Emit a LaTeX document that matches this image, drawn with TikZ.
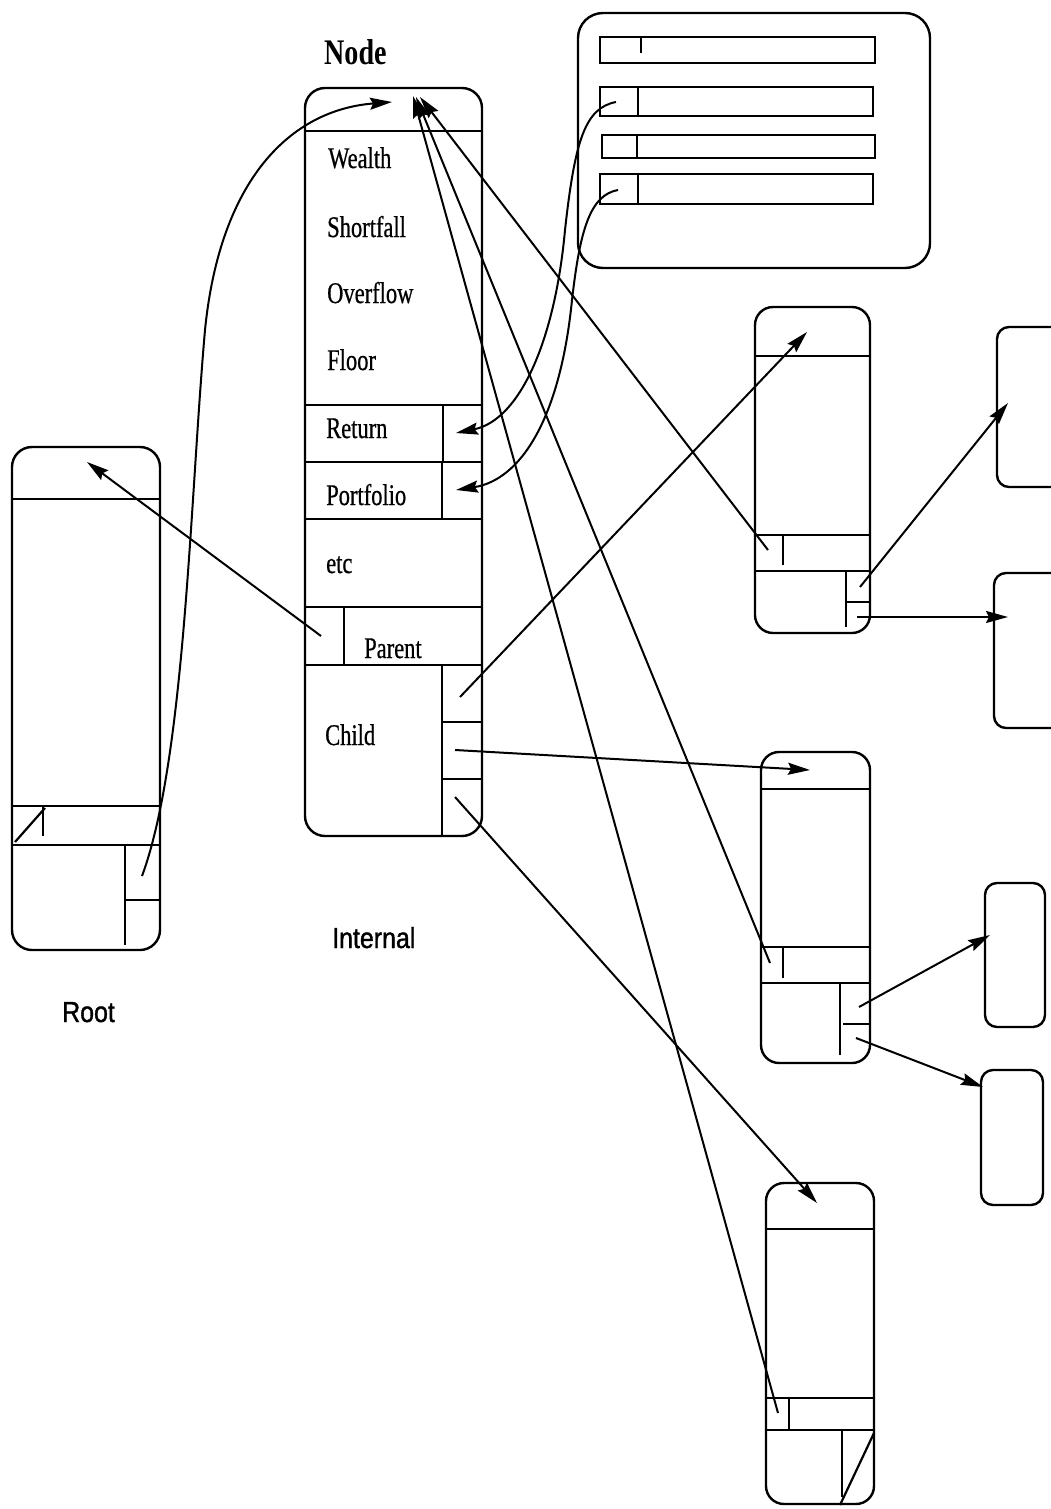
\documentclass[tikz,border=0pt]{standalone}
\usepackage{fontspec}
\setmainfont{Liberation Serif}
\newfontfamily\condserif[FakeStretch=0.75,FakeBold=0.6]{Liberation Serif}
\newfontfamily\titleserif[FakeStretch=0.78]{Liberation Serif}
\newfontfamily\condsans[FakeStretch=0.86,FakeBold=1.2]{Liberation Sans}
\usetikzlibrary{arrows.meta}
\tikzset{
  frame/.style={line width=2.4pt, rounded corners=#1},
  frame/.default=18pt,
  rule/.style={line width=2.2pt},
  ptr/.style={line width=2pt, -{Stealth[length=22pt,width=12pt,inset=3pt]}},
  lbl/.style={anchor=base west, inner sep=0pt, font=\condserif\fontsize{30}{32}\selectfont},
  sanslbl/.style={anchor=base west, inner sep=0pt, font=\condsans\fontsize{29}{32}\selectfont},
}
\begin{document}
\begin{tikzpicture}[x=1pt,y=-1pt]
\useasboundingbox (0,0) rectangle (1051,1509);

% ---------- Node (internal) ----------
\draw[frame=20pt] (305,88) rectangle (482,836);
\foreach \yy in {131,405,462,519,607,665} \draw[rule] (305,\yy) -- (482,\yy);
\draw[rule] (443,405) -- (443,462);
\draw[rule] (442,462) -- (442,519);
\draw[rule] (344,607) -- (344,665);
\draw[rule] (442,665) -- (442,836);
\draw[rule] (442,722) -- (482,722);
\draw[rule] (442,779) -- (482,779);
\node[anchor=base west, inner sep=0pt, font=\titleserif\bfseries\fontsize{36}{40}\selectfont] (title) at (324,65) {Node};
\node[lbl] (wealth) at (328,168) {Wealth};
\node[lbl] (shortfall) at (327,237) {Shortfall};
\node[lbl] (overflow) at (327,303) {Overflow};
\node[lbl] (floor) at (327,370) {Floor};
\node[lbl] (return) at (326,438) {Return};
\node[lbl] (portfolio) at (326,505) {Portfolio};
\node[lbl] (etc) at (326,573) {etc};
\node[lbl] (parent) at (364,658) {Parent};
\node[lbl] (child) at (325,745) {Child};
\node[sanslbl] (internal) at (332,948) {Internal};

% ---------- Root ----------
\draw[frame=20pt] (12,447) rectangle (160,950);
\foreach \yy in {499,806,845} \draw[rule] (12,\yy) -- (160,\yy);
\draw[rule] (43,806) -- (43,836);
\draw[rule] (15,842) -- (45,808);
\draw[rule] (125,845) -- (125,945);
\draw[rule] (125,900) -- (160,900);
\node[sanslbl] (rootlbl) at (62,1022) {Root};

% ---------- list box ----------
\draw[frame=25pt] (578,13) rectangle (930,268);
\draw[rule] (600,37) rectangle (875,63);
\draw[rule] (641,37) -- (641,53);
\draw[rule] (600,87) rectangle (873,116);
\draw[rule] (638,87) -- (638,116);
\draw[rule] (602,135) rectangle (875,158);
\draw[rule] (637,135) -- (637,158);
\draw[rule] (600,174) rectangle (873,204);
\draw[rule] (638,174) -- (638,204);

% ---------- child box 1 ----------
\draw[frame] (755,307) rectangle (870,633);
\foreach \yy in {356,535,571} \draw[rule] (755,\yy) -- (870,\yy);
\draw[rule] (783,535) -- (783,565);
\draw[rule] (846,571) -- (846,627);
\draw[rule] (846,602) -- (870,602);

% ---------- child box 2 ----------
\draw[frame] (761,752) rectangle (870,1063);
\foreach \yy in {789,947,983} \draw[rule] (761,\yy) -- (870,\yy);
\draw[rule] (783,947) -- (783,978);
\draw[rule] (840,983) -- (840,1055);
\draw[rule] (843,1024) -- (870,1024);

% ---------- child box 3 ----------
\draw[frame] (766,1183) rectangle (874,1504);
\foreach \yy in {1229,1398,1430} \draw[rule] (766,\yy) -- (874,\yy);
\draw[rule] (789,1398) -- (789,1430);
\draw[rule] (842,1430) -- (842,1497);
\draw[rule] (840,1505) -- (874,1433);

% ---------- leaf boxes ----------
\draw[frame=12pt] (997,327) rectangle (1075,487);
\draw[frame=12pt] (994,573) rectangle (1075,728);
\draw[frame=12pt] (985,883) rectangle (1045,1027);
\draw[frame=12pt] (981,1070) rectangle (1043,1205);

% ---------- pointer coordinates ----------
\coordinate (nodeTop) at (392,102);
\coordinate (nodeTopA) at (420,97);
\coordinate (nodeTopB) at (416,97);
\coordinate (nodeTopC) at (413,96);
\coordinate (nodeParent) at (321,636);
\coordinate (nodeKid1) at (460,697);
\coordinate (nodeKid2) at (455,750);
\coordinate (nodeKid3) at (455,797);
\coordinate (retCell) at (456,433);
\coordinate (portCell) at (456,490);
\coordinate (rootTop) at (87,462);
\coordinate (rootKid) at (142,876);
\coordinate (listA) at (616,102);
\coordinate (listB) at (618,190);
\coordinate (c1Top) at (807,332);
\coordinate (c1Parent) at (768,550);
\coordinate (c1KidA) at (860,587);
\coordinate (c1KidB) at (857,617);
\coordinate (c2Top) at (810,770);
\coordinate (c2Parent) at (770,963);
\coordinate (c2KidA) at (859,1007);
\coordinate (c2KidB) at (856,1038);
\coordinate (c3Top) at (817,1203);
\coordinate (c3Parent) at (778,1413);
\coordinate (leafA) at (1008,403);
\coordinate (leafB) at (1008,617);
\coordinate (leafC) at (990,935);
\coordinate (leafD) at (983,1087);

% ---------- connectors ----------
\draw[ptr] (nodeParent) -- (rootTop);
\draw[ptr] (nodeKid1) -- (c1Top);
\draw[ptr] (nodeKid2) -- (c2Top);
\draw[ptr] (nodeKid3) -- (c3Top);
\draw[ptr] (c1Parent) -- (nodeTopA);
\draw[ptr] (c2Parent) -- (nodeTopB);
\draw[ptr] (c3Parent) -- (nodeTopC);
\draw[ptr] (c1KidA) -- (leafA);
\draw[ptr] (c1KidB) -- (leafB);
\draw[ptr] (c2KidA) -- (leafC);
\draw[ptr] (c2KidB) -- (leafD);
\draw[ptr] (rootKid) .. controls (185,760) and (190,500) .. (205,330)
                    .. controls (220,180) and (290,110) .. (nodeTop);
\draw[ptr] (listA) .. controls (585,108) and (575,140) .. (565,230)
                  .. controls (555,340) and (520,420) .. (retCell);
\draw[ptr] (listB) .. controls (590,195) and (580,230) .. (572,300)
                  .. controls (560,420) and (520,480) .. (portCell);
\end{tikzpicture}
\end{document}
